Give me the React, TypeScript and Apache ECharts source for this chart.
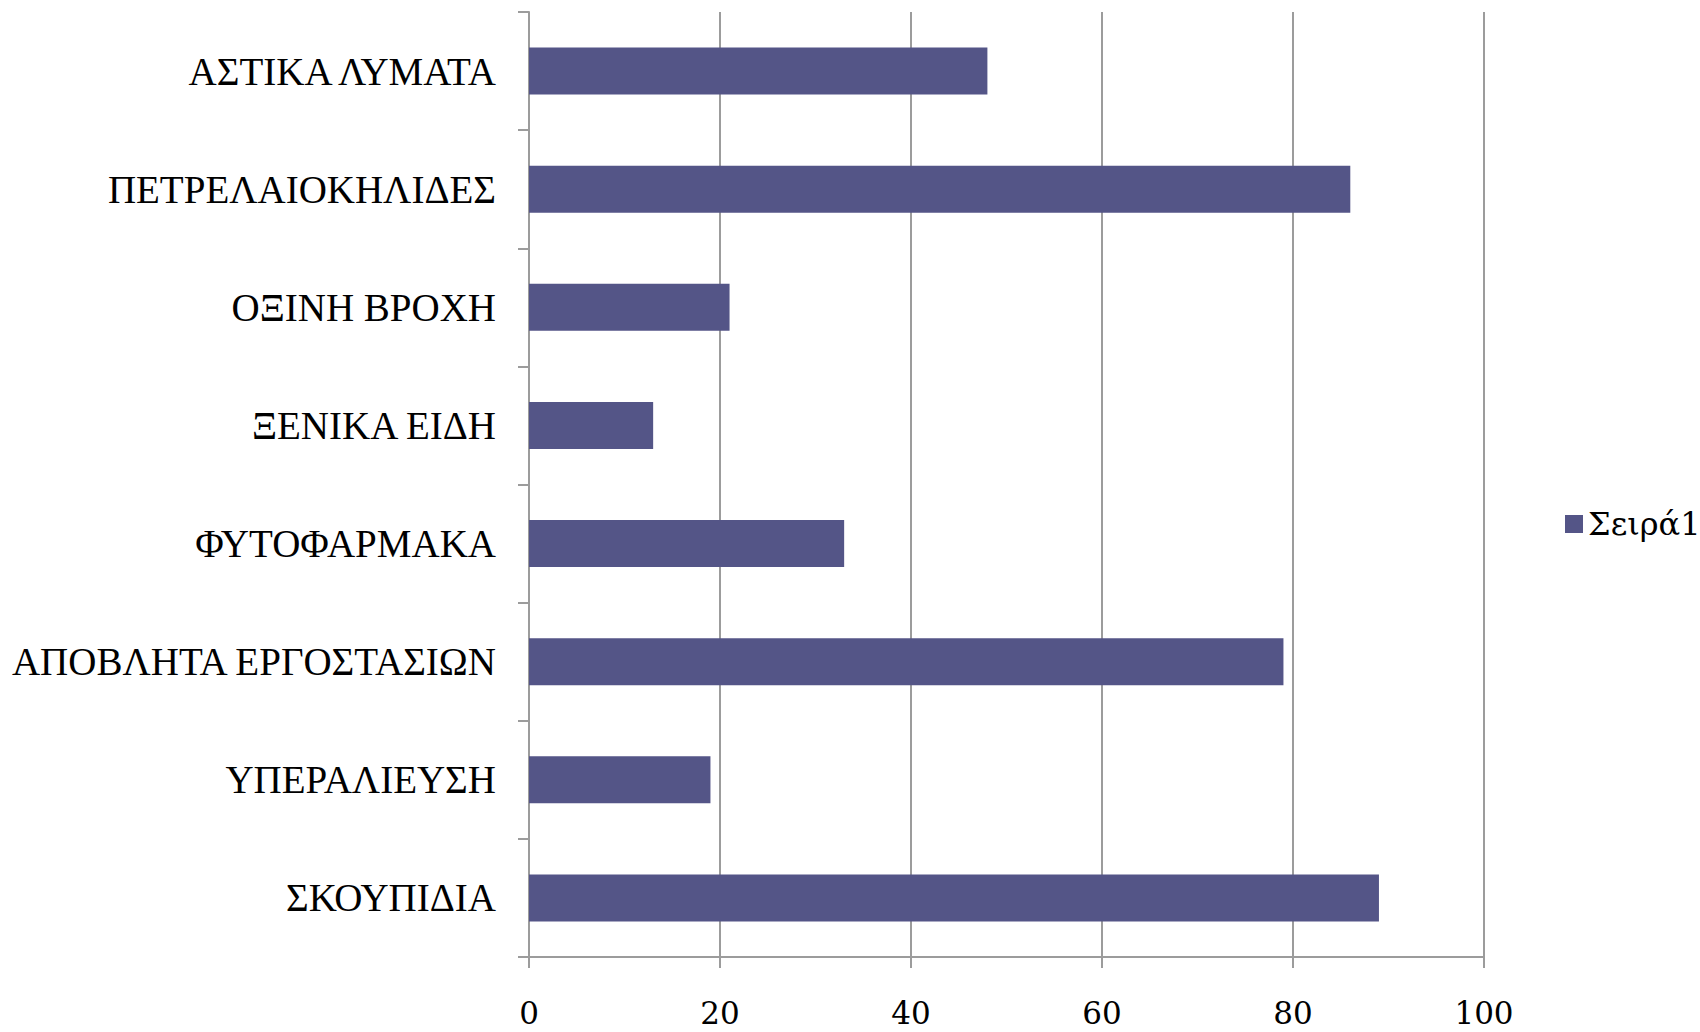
import React, { useEffect, useRef } from "react";
import * as echarts from "echarts";

// Categories listed top to bottom
const categories = [
  "ΑΣΤΙΚΑ ΛΥΜΑΤΑ",
  "ΠΕΤΡΕΛΑΙΟΚΗΛΙΔΕΣ",
  "ΟΞΙΝΗ ΒΡΟΧΗ",
  "ΞΕΝΙΚΑ ΕΙΔΗ",
  "ΦΥΤΟΦΑΡΜΑΚΑ",
  "ΑΠΟΒΛΗΤΑ ΕΡΓΟΣΤΑΣΙΩΝ",
  "ΥΠΕΡΑΛΙΕΥΣΗ",
  "ΣΚΟΥΠΙΔΙΑ",
];

const seriesName = "Σειρά1";
const seriesValues = [48, 86, 21, 13, 33, 79, 19, 89];

const axisMin = 0;
const axisMax = 100;
const axisStep = 20;

const BAR_COLOR = "#545587";
const LINE_COLOR = "#9c9c9c";

export default function App() {
  const ref = useRef<HTMLDivElement>(null);

  useEffect(() => {
    if (!ref.current) return;
    const chart = echarts.init(ref.current, undefined, { renderer: "svg" });
    chart.setOption({
      animation: false,
      backgroundColor: "#ffffff",
      grid: { left: 529, right: 216, top: 12, bottom: 75, containLabel: false },
      legend: {
        data: [seriesName],
        left: 1560,
        top: 503,
        icon: "rect",
        itemWidth: 18,
        itemHeight: 18,
        itemGap: 8,
        textStyle: {
          fontFamily: "DejaVu Serif",
          fontSize: 32,
          color: "#000000",
          padding: [0, 0, 0, 0],
        },
      },
      xAxis: {
        type: "value",
        min: axisMin,
        max: axisMax,
        interval: axisStep,
        axisLine: { show: true, lineStyle: { color: LINE_COLOR, width: 2 } },
        axisTick: { show: true, length: 11, lineStyle: { color: LINE_COLOR, width: 2 } },
        splitLine: { show: true, lineStyle: { color: LINE_COLOR, width: 2 } },
        axisLabel: {
          margin: 56,
          verticalAlign: "middle",
          fontFamily: "DejaVu Serif",
          fontSize: 31,
          lineHeight: 30,
          color: "#000000",
        },
      },
      yAxis: {
        type: "category",
        data: categories,
        inverse: true,
        axisLine: { show: true, lineStyle: { color: LINE_COLOR, width: 2 } },
        axisTick: { show: true, length: 11, lineStyle: { color: LINE_COLOR, width: 2 } },
        splitLine: { show: false },
        axisLabel: {
          margin: 33,
          fontFamily: "Liberation Serif",
          fontSize: 39,
          color: "#000000",
        },
      },
      series: [
        {
          name: seriesName,
          type: "bar",
          data: seriesValues,
          barWidth: 47,
          itemStyle: { color: BAR_COLOR },
        },
      ],
    });
    return () => chart.dispose();
  }, []);

  return (
    <div
      ref={ref}
      style={{ position: "fixed", left: 0, top: 0, width: 1700, height: 1032 }}
    />
  );
}
